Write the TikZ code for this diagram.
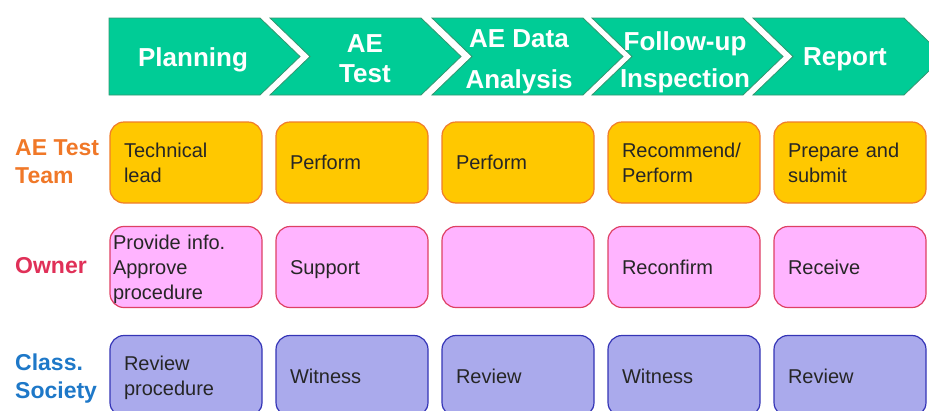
\documentclass[tikz,border=0pt]{standalone}
\usepackage{fontspec}
\setmainfont{Liberation Sans}
\usetikzlibrary{positioning}
\definecolor{phasefill}{RGB}{0,204,150}
\definecolor{phaseline}{RGB}{52,150,112}
\definecolor{teamfill}{RGB}{255,200,0}
\definecolor{teamline}{RGB}{240,124,42}
\definecolor{ownerfill}{RGB}{255,180,255}
\definecolor{ownerline}{RGB}{222,64,100}
\definecolor{classfill}{RGB}{170,170,236}
\definecolor{classline}{RGB}{52,52,182}
\definecolor{teamtext}{RGB}{240,120,40}
\definecolor{ownertext}{RGB}{224,48,88}
\definecolor{classtext}{RGB}{30,120,200}

\begin{document}
\begin{tikzpicture}[
x=1pt,y=-1pt,
Phase/.style={draw=phaseline,fill=phasefill,line width=0.8pt},
PhaseText/.style={text=white,font=\fontsize{26}{30}\selectfont\bfseries,align=center,inner sep=0pt},
RowLabel/.style={font=\fontsize{23}{28}\selectfont\bfseries,align=left,anchor=west,inner sep=0pt},
Task/.style={rounded corners=14pt,line width=1.2pt,minimum width=152pt,minimum height=81pt,
  text width=124pt,inner xsep=14pt,align=left,font=\fontsize{20}{25}\selectfont,text=black!85,
  execute at begin node=\rule{0pt}{19.4pt},execute at end node=\rule[-5pt]{0pt}{5pt}},
TeamBox/.style={Task,draw=teamline,fill=teamfill},
OwnerBox/.style={Task,draw=ownerline,fill=ownerfill},
ClassBox/.style={Task,draw=classline,fill=classfill}
]
\useasboundingbox (0,0) rectangle (929,410);
\clip (0,0) rectangle (929,410);

% phases
\draw[Phase] (109,18) -- (260,18) -- (300,56.5) -- (260,95) -- (109,95) -- cycle;
\foreach \xo in {270,432,592,753}
  \draw[Phase] (\xo,18) -- (\xo+151,18) -- (\xo+191,56.5) -- (\xo+151,95) -- (\xo,95) -- (\xo+40,56.5) -- cycle;

\node[PhaseText] (planning) at (193,60) {Planning};
\node[PhaseText] (aetest) at (365,58.5) {AE\\Test};
\node[PhaseText] (analysis) at (519,62) {AE Data\\[11pt]Analysis};
\node[PhaseText] (followup) at (685,62) {Follow-up\\[7pt]Inspection};
\node[PhaseText] (report) at (845,59) {Report};

% row labels
\node[RowLabel,text=teamtext] (team) at (15,162) {AE Test\\Team};
\node[RowLabel,text=ownertext] (owner) at (15,266) {Owner};
\node[RowLabel,text=classtext] (class) at (15,378.5) {Class.\\Society};

% AE test team
\node[TeamBox] (team-1) at (186,162.5) {Technical\\lead};
\node[TeamBox] (team-2) at (352,162.5) {Perform};
\node[TeamBox] (team-3) at (518,162.5) {Perform};
\node[TeamBox] (team-4) at (684,162.5) {Recommend/\\Perform};
\node[TeamBox] (team-5) at (850,162.5) {Prepare and\\submit};

% owner
\node[OwnerBox,inner xsep=3pt,text width=146pt] (owner-1) at (186,267) {Provide info.\\Approve\\procedure};
\node[OwnerBox] (owner-2) at (352,267) {Support};
\node[OwnerBox] (owner-3) at (518,267) {};
\node[OwnerBox] (owner-4) at (684,267) {Reconfirm};
\node[OwnerBox] (owner-5) at (850,267) {Receive};

% class society
\node[ClassBox] (class-1) at (186,376) {Review\\procedure};
\node[ClassBox] (class-2) at (352,376) {Witness};
\node[ClassBox] (class-3) at (518,376) {Review};
\node[ClassBox] (class-4) at (684,376) {Witness};
\node[ClassBox] (class-5) at (850,376) {Review};

\end{tikzpicture}
\end{document}
